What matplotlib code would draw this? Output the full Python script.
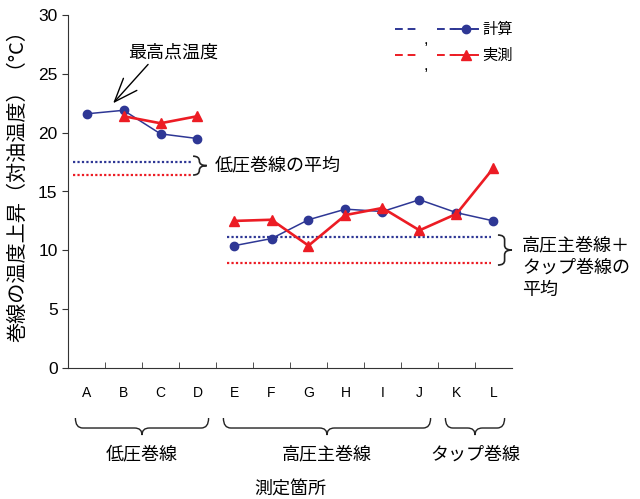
import matplotlib.pyplot as plt
import numpy as np
from matplotlib.path import Path
from matplotlib.patches import PathPatch
from matplotlib.lines import Line2D

plt.rcParams['font.family'] = ['Liberation Sans', 'Noto Sans CJK JP', 'DejaVu Sans']
JP = ['Noto Sans CJK JP', 'DejaVu Sans']

# データ
points = ["A", "B", "C", "D", "E", "F", "G", "H", "I", "J", "K", "L"]
calc = [21.6, 21.9, 19.9, 19.5, 10.4, 11.0, 12.6, 13.5, 13.3, 14.3, 13.2, 12.5]
meas = [np.nan, 21.4, 20.8, 21.4, 12.5, 12.6, 10.4, 13.0, 13.6, 11.7, 13.1, 17.0]
lv_avg = {"calc": 17.5, "meas": 16.4}
hv_avg = {"calc": 11.1, "meas": 8.9}
groups = [("低圧巻線", 0, 3), ("高圧主巻線", 4, 9), ("タップ巻線", 10, 11)]
n_lv = 4  # 低圧巻線の点数（線はここで切れる）

BLUE = "#2e3795"
RED = "#ec1c24"

fig = plt.figure(figsize=(6.4, 4.99), dpi=100)
ax = fig.add_axes([68/640, 131/499, 444/640, 353/499])

x = np.arange(len(points))
for sl in [slice(0, n_lv), slice(n_lv, None)]:
    ax.plot(x[sl], calc[sl], color=BLUE, lw=1.1, marker="o", ms=6, zorder=3)
    ax.plot(x[sl], meas[sl], color=RED, lw=1.9, marker="^", ms=7.5, zorder=4)

# 平均線
ax.plot([-0.37, 2.85], [lv_avg["calc"]] * 2, color=BLUE, lw=1.6, ls=(0, (1, 1)))
ax.plot([-0.37, 2.85], [lv_avg["meas"]] * 2, color=RED, lw=1.6, ls=(0, (1, 1)))
ax.plot([3.8, 10.93], [hv_avg["calc"]] * 2, color=BLUE, lw=1.6, ls=(0, (1, 1)))
ax.plot([3.8, 10.93], [hv_avg["meas"]] * 2, color=RED, lw=1.6, ls=(0, (1, 1)))

ax.set_xlim(-0.5, 11.5)
ax.set_ylim(0, 30)
ax.set_yticks(range(0, 31, 5))
ax.set_xticks(x)
ax.set_xticklabels(points, fontsize=10)
ax.set_xticks(np.arange(0.5, 11, 1), minor=True)
ax.tick_params(axis="x", which="major", length=0, pad=13)
ax.tick_params(axis="x", which="minor", direction="in", length=4, color="#333333")
ax.tick_params(axis="y", direction="out", length=4, labelsize=12.5, color="#333333")
for s in ["top", "right"]:
    ax.spines[s].set_visible(False)
for s in ["left", "bottom"]:
    ax.spines[s].set_color("#333333")

ax.set_ylabel("巻線の温度上昇（対油温度）（°C）", fontsize=14.5, family=JP)
ax.yaxis.set_label_coords(-0.113, 0.53)
ax.yaxis.label.set_va("center")


def brace(u0, u1, v_end, v_mid, v_tip, r, horizontal=True, **kw):
    uc = (u0 + u1) / 2
    pts = [(u0, v_end), (u0, v_mid), (u0 + r, v_mid), (uc - r, v_mid), (uc, v_mid), (uc, v_tip),
           (uc, v_mid), (uc + r, v_mid), (u1 - r, v_mid), (u1, v_mid), (u1, v_end)]
    if not horizontal:
        pts = [(v, u) for u, v in pts]
    codes = [Path.MOVETO, Path.CURVE3, Path.CURVE3, Path.LINETO, Path.CURVE3, Path.CURVE3,
             Path.CURVE3, Path.CURVE3, Path.LINETO, Path.CURVE3, Path.CURVE3]
    ax.add_patch(PathPatch(Path(pts, codes), fill=False, clip_on=False, **kw))


# 下のグループ
for name, i0, i1 in groups:
    brace(i0 - 0.3, i1 + 0.3, -4.25, -5.1, -5.7, 0.2, lw=1.0, edgecolor="#222222")
    ax.text((i0 + i1) / 2, -0.246, name, transform=ax.get_xaxis_transform(),
            ha="center", va="center", fontsize=13, family=JP)
ax.text(0.5, -0.345, "測定箇所", transform=ax.transAxes, ha="center", va="center",
        fontsize=13, family=JP)

# 右側の括弧
brace(16.4, 18.0, 2.88, 3.05, 3.25, 0.4, horizontal=False, lw=1.2, edgecolor="#222222")
ax.text(3.47, 17.2, "低圧巻線の平均", ha="left", va="center", fontsize=13, family=JP)
brace(8.75, 11.3, 11.12, 11.3, 11.5, 0.4, horizontal=False, lw=1.2, edgecolor="#222222")
ax.text(11.77, 8.5, "高圧主巻線＋\nタップ巻線の\n平均", ha="left", va="center",
        fontsize=13, family=JP, linespacing=1.3)

# 矢印
ax.annotate("最高点温度", xy=(0.72, 22.5), xytext=(2.34, 26.8), ha="center", va="center",
            fontsize=13, family=JP,
            arrowprops=dict(arrowstyle="->,head_length=1.3,head_width=0.5", color="black",
                            lw=1.0, relpos=(0.25, 0.0), shrinkA=0, shrinkB=0))


# 凡例
def fxy(px, py):
    return px / 640, 1 - py / 499


for py, col, mk, ms, lab in [(29, BLUE, "o", 6, "計算"), (55, RED, "^", 7.5, "実測")]:
    (x0, y0), (x1, _) = fxy(395, py), fxy(417, py)
    fig.add_artist(Line2D([x0, x1], [y0, y0], color=col, lw=1.4, dashes=(4, 2.5),
                          transform=fig.transFigure))
    (x0, _), (x1, _) = fxy(437, py), fxy(456, py)
    fig.add_artist(Line2D([x0, x1], [y0, y0], color=col, lw=1.4, dashes=(4, 2.5),
                          transform=fig.transFigure))
    (x0, _), (x1, _) = fxy(454, py), fxy(478, py)
    fig.add_artist(Line2D([x0, x1], [y0, y0], color=col, lw=1.4, transform=fig.transFigure))
    mx, _ = fxy(466, py)
    fig.add_artist(Line2D([mx], [y0], color=col, marker=mk, ms=ms, lw=0,
                          transform=fig.transFigure))
    tx, _ = fxy(482, py)
    fig.text(tx, y0, lab, ha="left", va="center", fontsize=11, family=JP)
    cx, cy = fxy(426, py + 10)
    fig.text(cx, cy, ",", ha="center", va="center", fontsize=12)

fig.savefig("out.png")
